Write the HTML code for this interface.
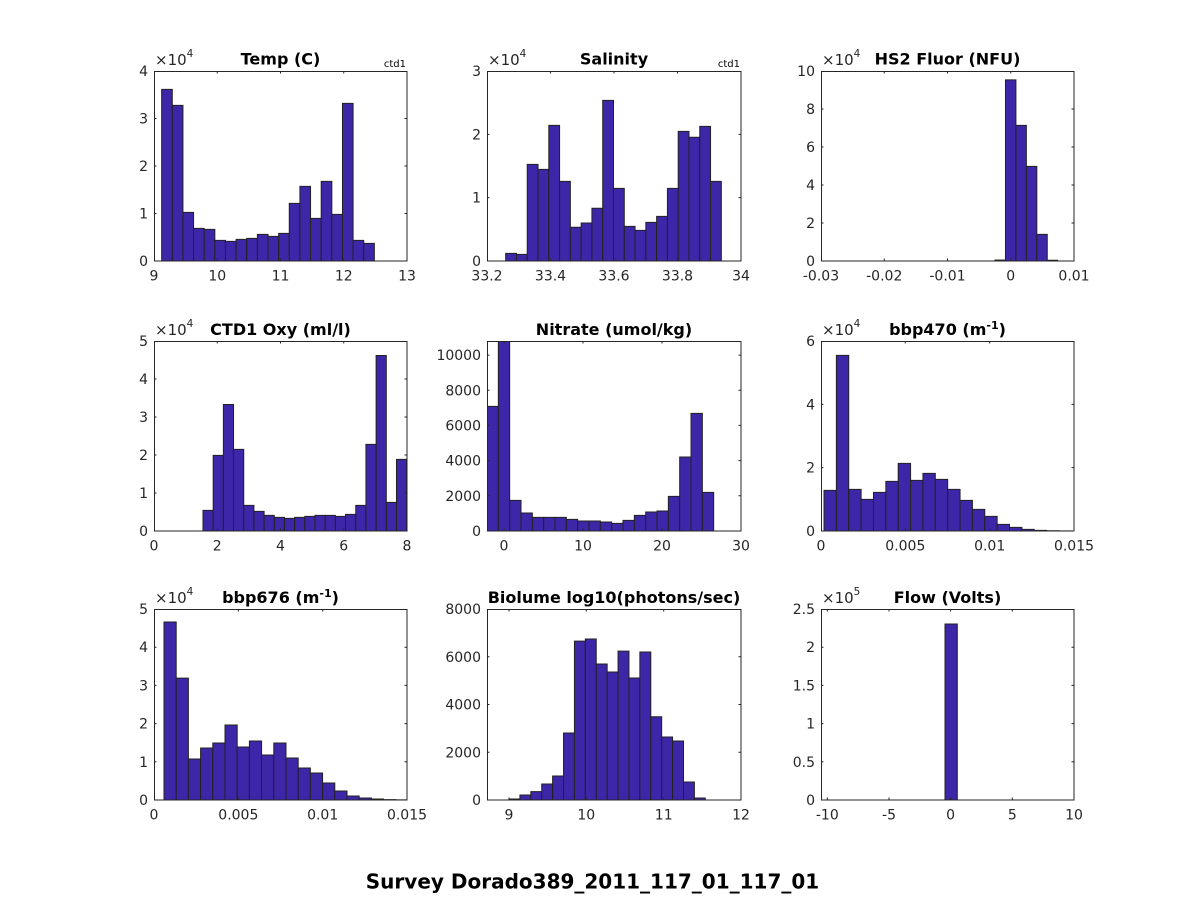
<!DOCTYPE html>
<html><head><meta charset="utf-8"><style>
html,body{margin:0;padding:0;background:#fff;}
svg{display:block;}
.t{font-family:"DejaVu Sans","Liberation Sans",sans-serif;font-size:14px;fill:#262626;}
.e{font-family:"DejaVu Sans","Liberation Sans",sans-serif;font-size:15px;fill:#262626;}
.ttl{font-family:"DejaVu Sans","Liberation Sans",sans-serif;font-size:16px;font-weight:bold;fill:#000;}
.b rect{fill:#3e26a8;stroke:#222;stroke-width:1;vector-effect:non-scaling-stroke;}
.ax{fill:none;stroke:#262626;stroke-width:1;}
</style></head><body>
<svg width="1188" height="900" viewBox="0 0 1188 900" xmlns="http://www.w3.org/2000/svg">
<rect width="1188" height="900" fill="#fff"/>

<!-- A1 Temp -->
<svg x="154" y="71" width="253" height="190" viewBox="-0.721 -4 23.79 4" preserveAspectRatio="none" class="b">
<rect x="0" y="-3.614" width="1" height="3.614"/><rect x="1" y="-3.277" width="1" height="3.277"/><rect x="2" y="-1.025" width="1" height="1.025"/><rect x="3" y="-0.688" width="1" height="0.688"/><rect x="4" y="-0.667" width="1" height="0.667"/><rect x="5" y="-0.435" width="1" height="0.435"/><rect x="6" y="-0.414" width="1" height="0.414"/><rect x="7" y="-0.456" width="1" height="0.456"/><rect x="8" y="-0.477" width="1" height="0.477"/><rect x="9" y="-0.561" width="1" height="0.561"/><rect x="10" y="-0.519" width="1" height="0.519"/><rect x="11" y="-0.582" width="1" height="0.582"/><rect x="12" y="-1.214" width="1" height="1.214"/><rect x="13" y="-1.572" width="1" height="1.572"/><rect x="14" y="-0.898" width="1" height="0.898"/><rect x="15" y="-1.677" width="1" height="1.677"/><rect x="16" y="-0.982" width="1" height="0.982"/><rect x="17" y="-3.319" width="1" height="3.319"/><rect x="18" y="-0.435" width="1" height="0.435"/><rect x="19" y="-0.372" width="1" height="0.372"/>
</svg>
<rect class="ax" x="154.5" y="71.5" width="252.5" height="189.5"/>
<path class="ax" d="M217.25 261v-2.5M280.5 261v-2.5M343.75 261v-2.5M217.25 71v2.5M280.5 71v2.5M343.75 71v2.5M154 213.5h2.5M154 166h2.5M154 118.5h2.5M407 213.5h-2.5M407 166h-2.5M407 118.5h-2.5"/>
<g class="t" text-anchor="middle"><text x="154" y="280.5">9</text><text x="217.25" y="280.5">10</text><text x="280.5" y="280.5">11</text><text x="343.75" y="280.5">12</text><text x="407" y="280.5">13</text></g>
<g class="t" text-anchor="end"><text x="148" y="266">0</text><text x="148" y="218.5">1</text><text x="148" y="171">2</text><text x="148" y="123.5">3</text><text x="148" y="76">4</text></g>
<text class="e" x="155" y="65">×10<tspan font-size="10.5" dy="-8">4</tspan></text>
<text class="ttl" x="280.5" y="64.5" text-anchor="middle">Temp (C)</text>
<text class="t" x="406" y="67" text-anchor="end" style="font-size:10px;fill:#000">ctd1</text>

<!-- A2 Salinity -->
<svg x="487" y="71" width="254" height="190" viewBox="-1.731 -3 23.555 3" preserveAspectRatio="none" class="b">
<rect x="0" y="-0.121" width="1" height="0.121"/><rect x="1" y="-0.105" width="1" height="0.105"/><rect x="2" y="-1.526" width="1" height="1.526"/><rect x="3" y="-1.447" width="1" height="1.447"/><rect x="4" y="-2.142" width="1" height="2.142"/><rect x="5" y="-1.258" width="1" height="1.258"/><rect x="6" y="-0.532" width="1" height="0.532"/><rect x="7" y="-0.6" width="1" height="0.6"/><rect x="8" y="-0.832" width="1" height="0.832"/><rect x="9" y="-2.537" width="1" height="2.537"/><rect x="10" y="-1.147" width="1" height="1.147"/><rect x="11" y="-0.547" width="1" height="0.547"/><rect x="12" y="-0.484" width="1" height="0.484"/><rect x="13" y="-0.61" width="1" height="0.61"/><rect x="14" y="-0.705" width="1" height="0.705"/><rect x="15" y="-1.147" width="1" height="1.147"/><rect x="16" y="-2.047" width="1" height="2.047"/><rect x="17" y="-1.953" width="1" height="1.953"/><rect x="18" y="-2.126" width="1" height="2.126"/><rect x="19" y="-1.258" width="1" height="1.258"/>
</svg>
<rect class="ax" x="487.5" y="71.5" width="253.5" height="189.5"/>
<path class="ax" d="M550.5 261v-2.5M614 261v-2.5M677.5 261v-2.5M550.5 71v2.5M614 71v2.5M677.5 71v2.5M487 197.67h2.5M487 134.33h2.5M741 197.67h-2.5M741 134.33h-2.5"/>
<g class="t" text-anchor="middle"><text x="487" y="280.5">33.2</text><text x="550.5" y="280.5">33.4</text><text x="614" y="280.5">33.6</text><text x="677.5" y="280.5">33.8</text><text x="741" y="280.5">34</text></g>
<g class="t" text-anchor="end"><text x="481" y="266">0</text><text x="481" y="202.67">1</text><text x="481" y="139.33">2</text><text x="481" y="76">3</text></g>
<text class="e" x="488" y="65">×10<tspan font-size="10.5" dy="-8">4</tspan></text>
<text class="ttl" x="614" y="64.5" text-anchor="middle">Salinity</text>
<text class="t" x="740" y="67" text-anchor="end" style="font-size:10px;fill:#000">ctd1</text>

<!-- A3 HS2 Fluor -->
<svg x="821" y="71" width="253" height="190" viewBox="-16.66 -10 24.22 10" preserveAspectRatio="none" class="b">
<rect x="0" y="-0.05" width="1" height="0.05"/><rect x="1" y="-9.53" width="1" height="9.53"/><rect x="2" y="-7.14" width="1" height="7.14"/><rect x="3" y="-4.98" width="1" height="4.98"/><rect x="4" y="-1.40" width="1" height="1.40"/><rect x="5" y="-0.04" width="1" height="0.04"/>
</svg>
<rect class="ax" x="821.5" y="71.5" width="252.5" height="189.5"/>
<path class="ax" d="M884.25 261v-2.5M947.5 261v-2.5M1010.75 261v-2.5M884.25 71v2.5M947.5 71v2.5M1010.75 71v2.5M821 223h2.5M821 185h2.5M821 147h2.5M821 109h2.5M1074 223h-2.5M1074 185h-2.5M1074 147h-2.5M1074 109h-2.5"/>
<g class="t" text-anchor="middle"><text x="821" y="280.5">-0.03</text><text x="884.25" y="280.5">-0.02</text><text x="947.5" y="280.5">-0.01</text><text x="1010.75" y="280.5">0</text><text x="1074" y="280.5">0.01</text></g>
<g class="t" text-anchor="end"><text x="815" y="266">0</text><text x="815" y="228">2</text><text x="815" y="190">4</text><text x="815" y="152">6</text><text x="815" y="114">8</text><text x="815" y="76">10</text></g>
<text class="e" x="822" y="65">×10<tspan font-size="10.5" dy="-8">4</tspan></text>
<text class="ttl" x="947.5" y="64.5" text-anchor="middle">HS2 Fluor (NFU)</text>

<!-- A4 CTD1 Oxy -->
<svg x="154" y="341" width="253" height="190" viewBox="-4.812 -5 24.845 5" preserveAspectRatio="none" class="b">
<rect x="0" y="-0.544" width="1" height="0.544"/><rect x="1" y="-1.99" width="1" height="1.99"/><rect x="2" y="-3.33" width="1" height="3.33"/><rect x="3" y="-2.149" width="1" height="2.149"/><rect x="4" y="-0.675" width="1" height="0.675"/><rect x="5" y="-0.518" width="1" height="0.518"/><rect x="6" y="-0.412" width="1" height="0.412"/><rect x="7" y="-0.36" width="1" height="0.36"/><rect x="8" y="-0.333" width="1" height="0.333"/><rect x="9" y="-0.36" width="1" height="0.36"/><rect x="10" y="-0.386" width="1" height="0.386"/><rect x="11" y="-0.412" width="1" height="0.412"/><rect x="12" y="-0.412" width="1" height="0.412"/><rect x="13" y="-0.386" width="1" height="0.386"/><rect x="14" y="-0.439" width="1" height="0.439"/><rect x="15" y="-0.675" width="1" height="0.675"/><rect x="16" y="-2.28" width="1" height="2.28"/><rect x="17" y="-4.62" width="1" height="4.62"/><rect x="18" y="-0.754" width="1" height="0.754"/><rect x="19" y="-1.886" width="1" height="1.886"/>
</svg>
<rect class="ax" x="154.5" y="341.5" width="252.5" height="189.5"/>
<path class="ax" d="M217.25 531v-2.5M280.5 531v-2.5M343.75 531v-2.5M217.25 341v2.5M280.5 341v2.5M343.75 341v2.5M154 493h2.5M154 455h2.5M154 417h2.5M154 379h2.5M407 493h-2.5M407 455h-2.5M407 417h-2.5M407 379h-2.5"/>
<g class="t" text-anchor="middle"><text x="154" y="550.5">0</text><text x="217.25" y="550.5">2</text><text x="280.5" y="550.5">4</text><text x="343.75" y="550.5">6</text><text x="407" y="550.5">8</text></g>
<g class="t" text-anchor="end"><text x="148" y="536">0</text><text x="148" y="498">1</text><text x="148" y="460">2</text><text x="148" y="422">3</text><text x="148" y="384">4</text><text x="148" y="346">5</text></g>
<text class="e" x="155" y="335">×10<tspan font-size="10.5" dy="-8">4</tspan></text>
<text class="ttl" x="280.5" y="335" text-anchor="middle">CTD1 Oxy (ml/l)</text>

<!-- A5 Nitrate -->
<svg x="487" y="341" width="254" height="190" viewBox="0 -10800 22.41 10800" preserveAspectRatio="none" class="b">
<rect x="0" y="-7083" width="1" height="7083"/><rect x="1" y="-10800" width="1" height="10800"/><rect x="2" y="-1742" width="1" height="1742"/><rect x="3" y="-1023" width="1" height="1023"/><rect x="4" y="-776" width="1" height="776"/><rect x="5" y="-776" width="1" height="776"/><rect x="6" y="-776" width="1" height="776"/><rect x="7" y="-663" width="1" height="663"/><rect x="8" y="-568" width="1" height="568"/><rect x="9" y="-568" width="1" height="568"/><rect x="10" y="-511" width="1" height="511"/><rect x="11" y="-436" width="1" height="436"/><rect x="12" y="-606" width="1" height="606"/><rect x="13" y="-890" width="1" height="890"/><rect x="14" y="-1080" width="1" height="1080"/><rect x="15" y="-1136" width="1" height="1136"/><rect x="16" y="-1970" width="1" height="1970"/><rect x="17" y="-4205" width="1" height="4205"/><rect x="18" y="-6686" width="1" height="6686"/><rect x="19" y="-2197" width="1" height="2197"/>
</svg>
<rect class="ax" x="487.5" y="341.5" width="253.5" height="189.5"/>
<path class="ax" d="M504 531v-2.5M583 531v-2.5M662 531v-2.5M504 341v2.5M583 341v2.5M662 341v2.5M487 495.8h2.5M487 460.6h2.5M487 425.4h2.5M487 390.3h2.5M487 355.1h2.5M741 495.8h-2.5M741 460.6h-2.5M741 425.4h-2.5M741 390.3h-2.5M741 355.1h-2.5"/>
<g class="t" text-anchor="middle"><text x="504" y="550.5">0</text><text x="583" y="550.5">10</text><text x="662" y="550.5">20</text><text x="741" y="550.5">30</text></g>
<g class="t" text-anchor="end"><text x="481" y="536">0</text><text x="481" y="500.8">2000</text><text x="481" y="465.6">4000</text><text x="481" y="430.4">6000</text><text x="481" y="395.3">8000</text><text x="481" y="360.1">10000</text></g>
<text class="ttl" x="614" y="335" text-anchor="middle">Nitrate (umol/kg)</text>

<!-- A6 bbp470 -->
<svg x="821" y="341" width="253" height="190" viewBox="-0.243 -6 20.457 6" preserveAspectRatio="none" class="b">
<rect x="0" y="-1.284" width="1" height="1.284"/><rect x="1" y="-5.547" width="1" height="5.547"/><rect x="2" y="-1.316" width="1" height="1.316"/><rect x="3" y="-1.0" width="1" height="1.0"/><rect x="4" y="-1.221" width="1" height="1.221"/><rect x="5" y="-1.568" width="1" height="1.568"/><rect x="6" y="-2.137" width="1" height="2.137"/><rect x="7" y="-1.6" width="1" height="1.6"/><rect x="8" y="-1.82" width="1" height="1.82"/><rect x="9" y="-1.63" width="1" height="1.63"/><rect x="10" y="-1.316" width="1" height="1.316"/><rect x="11" y="-0.968" width="1" height="0.968"/><rect x="12" y="-0.684" width="1" height="0.684"/><rect x="13" y="-0.463" width="1" height="0.463"/><rect x="14" y="-0.21" width="1" height="0.21"/><rect x="15" y="-0.116" width="1" height="0.116"/><rect x="16" y="-0.053" width="1" height="0.053"/><rect x="17" y="-0.02" width="1" height="0.02"/><rect x="18" y="-0.008" width="1" height="0.008"/><rect x="19" y="-0.003" width="1" height="0.003"/>
</svg>
<rect class="ax" x="821.5" y="341.5" width="252.5" height="189.5"/>
<path class="ax" d="M905.33 531v-2.5M989.67 531v-2.5M905.33 341v2.5M989.67 341v2.5M821 467.67h2.5M821 404.33h2.5M1074 467.67h-2.5M1074 404.33h-2.5"/>
<g class="t" text-anchor="middle"><text x="821" y="550.5">0</text><text x="905.33" y="550.5">0.005</text><text x="989.67" y="550.5">0.01</text><text x="1074" y="550.5">0.015</text></g>
<g class="t" text-anchor="end"><text x="815" y="536">0</text><text x="815" y="472.67">2</text><text x="815" y="409.33">4</text><text x="815" y="346">6</text></g>
<text class="e" x="822" y="335">×10<tspan font-size="10.5" dy="-8">4</tspan></text>
<text class="ttl" x="947.5" y="335" text-anchor="middle">bbp470 (m<tspan font-size="11" dy="-6">-1</tspan><tspan dy="6">)</tspan></text>

<!-- A7 bbp676 -->
<svg x="154" y="609" width="253" height="191" viewBox="-0.82 -5 20.74 5" preserveAspectRatio="none" class="b">
<rect x="0" y="-4.66" width="1" height="4.66"/><rect x="1" y="-3.19" width="1" height="3.19"/><rect x="2" y="-1.073" width="1" height="1.073"/><rect x="3" y="-1.361" width="1" height="1.361"/><rect x="4" y="-1.492" width="1" height="1.492"/><rect x="5" y="-1.963" width="1" height="1.963"/><rect x="6" y="-1.387" width="1" height="1.387"/><rect x="7" y="-1.545" width="1" height="1.545"/><rect x="8" y="-1.178" width="1" height="1.178"/><rect x="9" y="-1.492" width="1" height="1.492"/><rect x="10" y="-1.1" width="1" height="1.1"/><rect x="11" y="-0.838" width="1" height="0.838"/><rect x="12" y="-0.707" width="1" height="0.707"/><rect x="13" y="-0.445" width="1" height="0.445"/><rect x="14" y="-0.236" width="1" height="0.236"/><rect x="15" y="-0.105" width="1" height="0.105"/><rect x="16" y="-0.052" width="1" height="0.052"/><rect x="17" y="-0.026" width="1" height="0.026"/><rect x="18" y="-0.01" width="1" height="0.01"/><rect x="19" y="-0.004" width="1" height="0.004"/>
</svg>
<rect class="ax" x="154.5" y="609.5" width="252.5" height="190.5"/>
<path class="ax" d="M238.33 800v-2.5M322.67 800v-2.5M238.33 609v2.5M322.67 609v2.5M154 761.8h2.5M154 723.6h2.5M154 685.4h2.5M154 647.2h2.5M407 761.8h-2.5M407 723.6h-2.5M407 685.4h-2.5M407 647.2h-2.5"/>
<g class="t" text-anchor="middle"><text x="154" y="819.5">0</text><text x="238.33" y="819.5">0.005</text><text x="322.67" y="819.5">0.01</text><text x="407" y="819.5">0.015</text></g>
<g class="t" text-anchor="end"><text x="148" y="805">0</text><text x="148" y="766.8">1</text><text x="148" y="728.6">2</text><text x="148" y="690.4">3</text><text x="148" y="652.2">4</text><text x="148" y="614">5</text></g>
<text class="e" x="155" y="603">×10<tspan font-size="10.5" dy="-8">4</tspan></text>
<text class="ttl" x="280.5" y="603" text-anchor="middle">bbp676 (m<tspan font-size="11" dy="-6">-1</tspan><tspan dy="6">)</tspan></text>

<!-- A8 Biolume -->
<svg x="487" y="609" width="254" height="191" viewBox="-2.017 -8000 23.29 8000" preserveAspectRatio="none" class="b">
<rect x="0" y="-42" width="1" height="42"/><rect x="1" y="-209" width="1" height="209"/><rect x="2" y="-349" width="1" height="349"/><rect x="3" y="-670" width="1" height="670"/><rect x="4" y="-1005" width="1" height="1005"/><rect x="5" y="-2805" width="1" height="2805"/><rect x="6" y="-6657" width="1" height="6657"/><rect x="7" y="-6741" width="1" height="6741"/><rect x="8" y="-5694" width="1" height="5694"/><rect x="9" y="-5359" width="1" height="5359"/><rect x="10" y="-6238" width="1" height="6238"/><rect x="11" y="-5108" width="1" height="5108"/><rect x="12" y="-6197" width="1" height="6197"/><rect x="13" y="-3489" width="1" height="3489"/><rect x="14" y="-2638" width="1" height="2638"/><rect x="15" y="-2470" width="1" height="2470"/><rect x="16" y="-754" width="1" height="754"/><rect x="17" y="-84" width="1" height="84"/>
</svg>
<rect class="ax" x="487.5" y="609.5" width="253.5" height="190.5"/>
<path class="ax" d="M508.97 800v-2.5M586.3 800v-2.5M663.7 800v-2.5M508.97 609v2.5M586.3 609v2.5M663.7 609v2.5M487 752.25h2.5M487 704.5h2.5M487 656.75h2.5M741 752.25h-2.5M741 704.5h-2.5M741 656.75h-2.5"/>
<g class="t" text-anchor="middle"><text x="508.97" y="819.5">9</text><text x="586.3" y="819.5">10</text><text x="663.7" y="819.5">11</text><text x="741" y="819.5">12</text></g>
<g class="t" text-anchor="end"><text x="481" y="805">0</text><text x="481" y="757.25">2000</text><text x="481" y="709.5">4000</text><text x="481" y="661.75">6000</text><text x="481" y="614">8000</text></g>
<text class="ttl" x="614" y="603" text-anchor="middle">Biolume log10(photons/sec)</text>

<!-- A9 Flow -->
<rect x="945" y="624" width="12.3" height="176" fill="#3e26a8" stroke="#222" stroke-width="1"/>
<rect class="ax" x="821.5" y="609.5" width="252.5" height="190.5"/>
<path class="ax" d="M827.3 800v-2.5M889 800v-2.5M950.6 800v-2.5M1012.3 800v-2.5M827.3 609v2.5M889 609v2.5M950.6 609v2.5M1012.3 609v2.5M821 761.8h2.5M821 723.6h2.5M821 685.4h2.5M821 647.2h2.5M1074 761.8h-2.5M1074 723.6h-2.5M1074 685.4h-2.5M1074 647.2h-2.5"/>
<g class="t" text-anchor="middle"><text x="827.3" y="819.5">-10</text><text x="889" y="819.5">-5</text><text x="950.6" y="819.5">0</text><text x="1012.3" y="819.5">5</text><text x="1074" y="819.5">10</text></g>
<g class="t" text-anchor="end"><text x="815" y="805">0</text><text x="815" y="766.8">0.5</text><text x="815" y="728.6">1</text><text x="815" y="690.4">1.5</text><text x="815" y="652.2">2</text><text x="815" y="614">2.5</text></g>
<text class="e" x="822" y="603">×10<tspan font-size="10.5" dy="-8">5</tspan></text>
<text class="ttl" x="947.5" y="603" text-anchor="middle">Flow (Volts)</text>

<!-- Figure title -->
<text x="592.5" y="888.5" text-anchor="middle" style="font-family:'DejaVu Sans','Liberation Sans',sans-serif;font-size:20px;font-weight:bold;fill:#000">Survey Dorado389_2011_117_01_117_01</text>
</svg>
</body></html>
